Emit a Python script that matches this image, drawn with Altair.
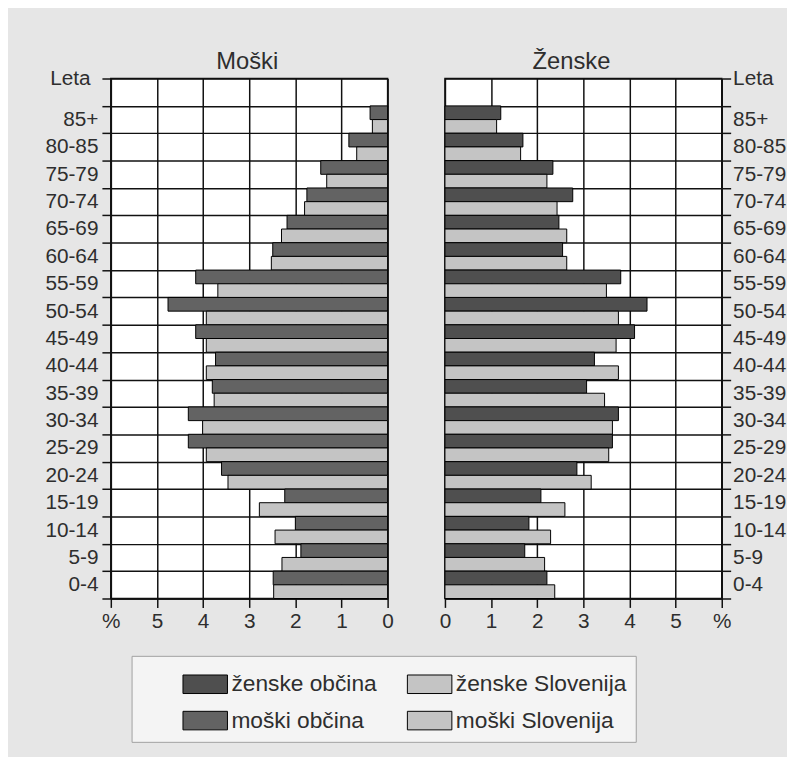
import json
import altair as alt
import pandas as pd

# ---------------- data ----------------
ages = ["85+", "80-85", "75-79", "70-74", "65-69", "60-64", "55-59", "50-54", "45-49",
        "40-44", "35-39", "30-34", "25-29", "20-24", "15-19", "10-14", "5-9", "0-4"]
men_obcina = [0.38, 0.84, 1.45, 1.75, 2.18, 2.49, 4.16, 4.76, 4.16,
              3.73, 3.80, 4.32, 4.32, 3.60, 2.23, 2.00, 1.88, 2.48]
men_slovenija = [0.33, 0.67, 1.32, 1.80, 2.30, 2.52, 3.68, 3.93, 3.93,
                 3.93, 3.76, 4.01, 3.93, 3.46, 2.78, 2.44, 2.29, 2.47]
women_obcina = [1.21, 1.69, 2.34, 2.77, 2.47, 2.55, 3.81, 4.38, 4.11,
                3.24, 3.07, 3.76, 3.63, 2.86, 2.08, 1.82, 1.73, 2.21]
women_slovenija = [1.12, 1.64, 2.21, 2.43, 2.64, 2.64, 3.50, 3.76, 3.71,
                   3.76, 3.46, 3.63, 3.55, 3.17, 2.60, 2.29, 2.16, 2.38]
# legend order (filled column by column)
series = ["ženske občina", "moški občina", "ženske Slovenija", "moški Slovenija"]
series_colors = ["#4f4f4f", "#636363", "#c4c4c4", "#c4c4c4"]
x_ticks = [0, 1, 2, 3, 4, 5, 6]

# ---------------- table ----------------
n = len(ages)
records = []
for i, age in enumerate(ages):
    k = n - 1 - i  # row index from the bottom
    records.append(dict(side="M", series="moški občina", age=age, value=men_obcina[i], zero=0, ytop=k + 1, ybot=k + 0.5))
    records.append(dict(side="M", series="moški Slovenija", age=age, value=men_slovenija[i], zero=0, ytop=k + 0.5, ybot=k))
    records.append(dict(side="Z", series="ženske občina", age=age, value=women_obcina[i], zero=0, ytop=k + 1, ybot=k + 0.5))
    records.append(dict(side="Z", series="ženske Slovenija", age=age, value=women_slovenija[i], zero=0, ytop=k + 0.5, ybot=k))
df = pd.DataFrame(records)

FONT = "Liberation Sans"
TXT = "#2e2e2e"
LINE = "#111111"
W, H = 280, 526
NROWS = n + 1
ROW = H / NROWS

labels_bottom_up = list(reversed(ages))
label_expr = (f"datum.value >= 1 && datum.value <= {n} ? "
              f"{json.dumps(labels_bottom_up)}[datum.value - 1] : ''")

legend = alt.Legend(
    title="\u2003", titleOrient="left", titleFontSize=22, titlePadding=46,
    columns=2, columnPadding=28, rowPadding=5,
    symbolType="M-1.2,-0.5H1.2V0.5H-1.2Z", symbolSize=1406,
    symbolStrokeColor="black", symbolStrokeWidth=1, symbolOpacity=1,
    labelFontSize=23, labelFont=FONT, labelColor=TXT, labelOffset=7, labelLimit=300,
    padding=9, strokeColor="#a0a0a0", fillColor="#f4f4f4",
    orient="none", legendX=21, legendY=584,
)

color = alt.Color("series:N", scale=alt.Scale(domain=series, range=series_colors), legend=legend)


def panel(sub, title, reverse, orient, title_dx, axis_title_x, axis_title_align, label_pad):
    x_axis = alt.Axis(
        values=x_ticks, labelExpr="datum.value == 6 ? '%' : datum.label", title=None,
        grid=True, gridColor=LINE, gridWidth=1.5, tickSize=9, tickColor=LINE, tickWidth=1.5,
        domainColor=LINE, domainWidth=1.5, labelFontSize=21, labelFont=FONT, labelColor=TXT,
        labelPadding=3, labelFlush=False, labelOverlap=False,
    )
    y_axis = alt.Axis(
        orient=orient, values=list(range(NROWS + 1)), labelExpr=label_expr,
        title="Leta", titleAngle=0, titleX=axis_title_x, titleY=0, titleAlign=axis_title_align,
        titleBaseline="middle", titleFontSize=21, titleFontWeight="normal", titleColor=TXT, titleFont=FONT,
        grid=True, gridColor=LINE, gridWidth=1.5, tickSize=9, tickColor=LINE, tickWidth=1.5,
        domainColor=LINE, domainWidth=1.5, labelFontSize=21, labelFont=FONT, labelColor=TXT,
        labelPadding=label_pad, labelOffset=ROW / 2, labelBaseline="middle",
        labelFlush=False, labelOverlap=False,
    )
    return alt.Chart(
        sub,
        title=alt.TitleParams(text=title, fontSize=24, font=FONT, fontWeight="normal", color=TXT,
                              anchor="middle", frame="group", dx=title_dx, offset=-25,
                              baseline="alphabetic"),
    ).mark_rect(stroke="black", strokeWidth=1).encode(
        x=alt.X("value:Q", scale=alt.Scale(domain=[0, 6], reverse=reverse, nice=False), axis=x_axis),
        x2="zero:Q",
        y=alt.Y("ytop:Q", scale=alt.Scale(domain=[0, NROWS], nice=False), axis=y_axis),
        y2="ybot:Q",
        color=color,
    ).properties(width=W, height=H)


left = panel(df[df.side == "M"], "Moški", True, "left", -2, -21, "right", 4)
right = panel(df[df.side == "Z"], "Ženske", False, "right", -12, 11, "left", 2)

chart = alt.hconcat(left, right, spacing=58, bounds="flush").configure_view(
    fill="white", stroke=LINE, strokeWidth=1.5
).properties(
    background="#e6e6e6",
    padding={"left": 36, "top": 37, "right": 0, "bottom": 10},
)

chart.save("out.html", embed_options={"renderer": "svg", "actions": False})
